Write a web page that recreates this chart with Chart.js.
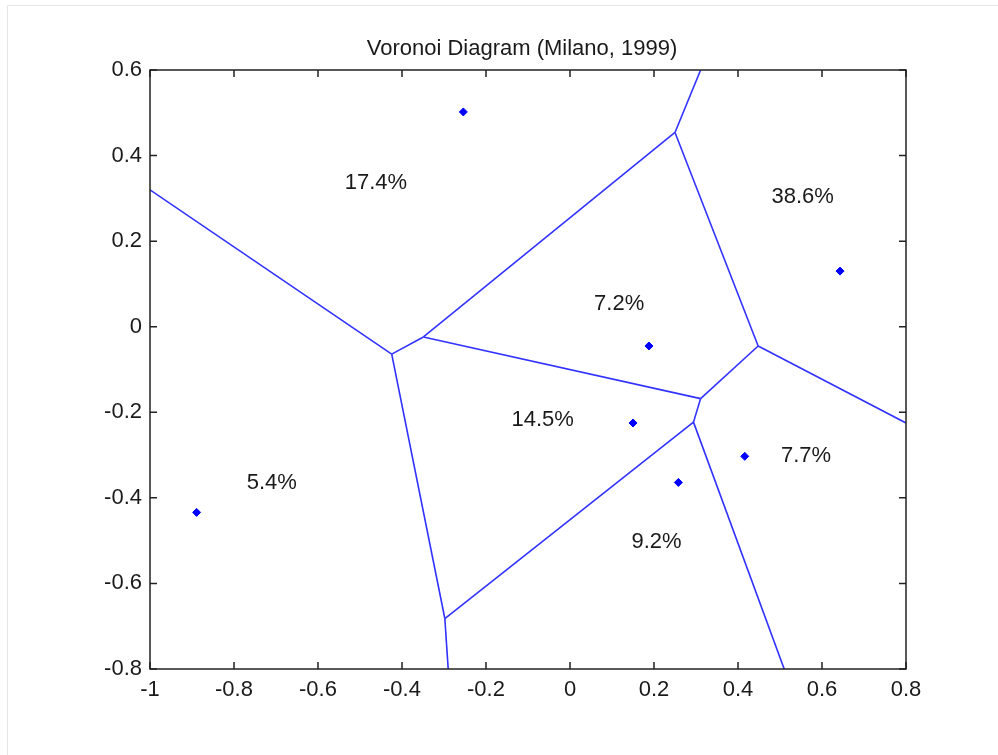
<!DOCTYPE html>
<html>
<head>
<meta charset="utf-8">
<script src="https://cdn.jsdelivr.net/npm/chart.js@4.4.1/dist/chart.umd.min.js"></script>
<style>
  body { margin: 0; background: #fff; }
  canvas { display: block; }
</style>
</head>
<body>
<canvas id="chart" width="998" height="755"></canvas>
<script>
// Sitios (puntos azules)
const sitesX = [-0.254, 0.643, 0.188, 0.150, 0.258, 0.416, -0.889];
const sitesY = [0.502, 0.130, -0.045, -0.225, -0.364, -0.303, -0.434];

// Vértices del diagrama de Voronoi
const vertX = [-1.0, -0.4245, -0.349, 0.250, 0.311, 0.448, 0.80, 0.311, 0.294, 0.510, -0.298, -0.290];
const vertY = [0.320, -0.064, -0.024, 0.454, 0.60, -0.045, -0.225, -0.168, -0.223, -0.80, -0.682, -0.80];
//              A      B       C      D      E     F       G       H       I       J      K       L

// Aristas (pares de índices de vértices)
const edges = [[0, 1], [1, 2], [2, 3], [3, 4], [3, 5], [5, 6], [5, 7], [2, 7], [7, 8], [8, 10], [8, 9], [1, 10], [10, 11]];

// Etiquetas de porcentaje
const pctLabels = ['17.4%', '38.6%', '7.2%', '14.5%', '5.4%', '7.7%', '9.2%'];
const pctX = [-0.462, 0.554, 0.117, -0.065, -0.710, 0.562, 0.206];
const pctY = [0.336, 0.304, 0.054, -0.219, -0.364, -0.301, -0.502];

const xTicks = [-1, -0.8, -0.6, -0.4, -0.2, 0, 0.2, 0.4, 0.6, 0.8];
const yTicks = [-0.8, -0.6, -0.4, -0.2, 0, 0.2, 0.4, 0.6];

const titleText = 'Voronoi Diagram (Milano, 1999)';
const fontFamily = '"Liberation Sans", Arial, sans-serif';

const datasets = edges.map(e => ({
    type: 'line',
    data: [{ x: vertX[e[0]], y: vertY[e[0]] }, { x: vertX[e[1]], y: vertY[e[1]] }],
    borderColor: 'rgb(50, 50, 255)',
    borderWidth: 1.6,
    pointRadius: 0,
    fill: false
}));

datasets.push({
    type: 'scatter',
    data: sitesX.map((x, i) => ({ x: x, y: sitesY[i] })),
    pointStyle: 'rectRot',
    pointRadius: 4,
    backgroundColor: '#0000ff',
    borderColor: '#0000ff',
    borderWidth: 1
});

// Marco, ticks hacia dentro, título y etiquetas
const decorPlugin = {
    id: 'decor',
    beforeDraw(chart) {
        const ctx = chart.ctx;
        ctx.save();
        ctx.fillStyle = '#fff';
        ctx.fillRect(0, 0, chart.width, chart.height);
        ctx.strokeStyle = '#e6e6e6';
        ctx.lineWidth = 1;
        ctx.beginPath();
        ctx.moveTo(7.5, chart.height);
        ctx.lineTo(7.5, 5.5);
        ctx.lineTo(chart.width, 5.5);
        ctx.stroke();
        ctx.restore();
    },
    afterDraw(chart) {
        const ctx = chart.ctx;
        const a = chart.chartArea;
        const xs = chart.scales.x;
        const ys = chart.scales.y;
        const tl = 7;
        ctx.save();
        ctx.strokeStyle = '#222';
        ctx.lineWidth = 1.5;
        ctx.strokeRect(a.left, a.top, a.right - a.left, a.bottom - a.top);
        ctx.beginPath();
        xTicks.forEach(v => {
            const px = xs.getPixelForValue(v);
            ctx.moveTo(px, a.bottom); ctx.lineTo(px, a.bottom - tl);
            ctx.moveTo(px, a.top); ctx.lineTo(px, a.top + tl);
        });
        yTicks.forEach(v => {
            const py = ys.getPixelForValue(v);
            ctx.moveTo(a.left, py); ctx.lineTo(a.left + tl, py);
            ctx.moveTo(a.right, py); ctx.lineTo(a.right - tl, py);
        });
        ctx.stroke();

        ctx.fillStyle = '#1a1a1a';
        ctx.textAlign = 'center';
        ctx.textBaseline = 'middle';
        ctx.font = '22px ' + fontFamily;
        ctx.fillText(titleText, (a.left + a.right) / 2 - 6, 48.5);
        pctLabels.forEach((t, i) => {
            ctx.fillText(t, xs.getPixelForValue(pctX[i]), ys.getPixelForValue(pctY[i]));
        });
        ctx.restore();
    }
};

new Chart(document.getElementById('chart'), {
    type: 'scatter',
    data: { datasets: datasets },
    options: {
        responsive: false,
        animation: false,
        layout: { padding: { top: 70, right: 92, bottom: 0, left: 0 } },
        plugins: {
            legend: { display: false },
            tooltip: { enabled: false },
            title: { display: false }
        },
        scales: {
            x: {
                type: 'linear',
                min: -1,
                max: 0.8,
                afterBuildTicks: s => { s.ticks = xTicks.map(v => ({ value: v })); },
                afterFit: s => { s.height = 86; },
                grid: { display: false },
                border: { display: false },
                ticks: {
                    color: '#1a1a1a',
                    padding: 0,
                    maxRotation: 0,
                    font: { family: fontFamily, size: 22 },
                    callback: v => String(v)
                }
            },
            y: {
                type: 'linear',
                min: -0.8,
                max: 0.6,
                afterBuildTicks: s => { s.ticks = yTicks.map(v => ({ value: v })); },
                afterFit: s => { s.width = 150; },
                grid: { display: false },
                border: { display: false },
                ticks: {
                    color: '#1a1a1a',
                    padding: 0,
                    font: { family: fontFamily, size: 22 },
                    callback: v => String(v)
                }
            }
        }
    },
    plugins: [decorPlugin]
});
</script>
</body>
</html>
